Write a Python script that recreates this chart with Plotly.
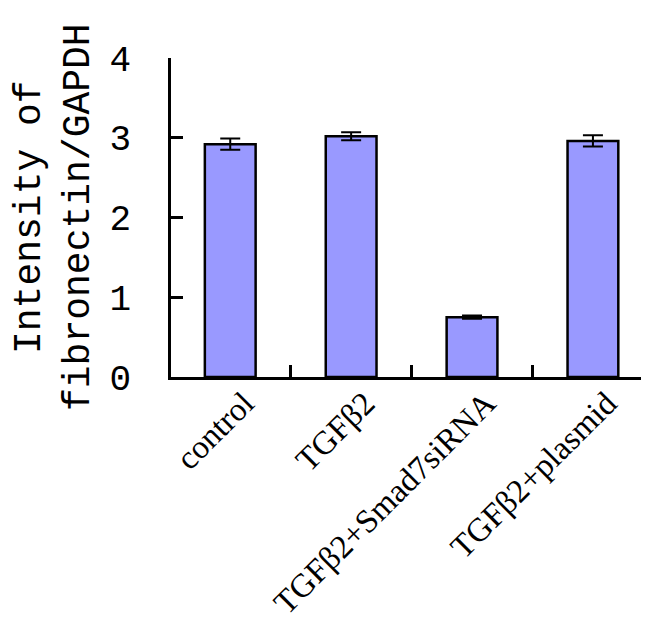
import plotly.graph_objects as go

categories = ["control", "TGFβ2", "TGFβ2+Smad7siRNA", "TGFβ2+plasmid"]
values = [2.92, 3.02, 0.75, 2.96]
errors = [0.07, 0.05, 0.02, 0.07]
y_ticks = [0, 1, 2, 3, 4]
ylabel = "Intensity of<br>fibronectin/GAPDH"

W, H = 649, 631
OFF = 8  # browser body margin
# desired on-screen plot box
SX0, SY0, SY1 = 171, 58, 377
L, T = SX0 - OFF, SY0 - OFF
B = H - (SY1 - OFF)
R = 0
pw, ph = W - L - R, H - T - B

fig = go.Figure()
fig.add_trace(go.Bar(
    x=categories, y=values,
    width=0.42,
    marker=dict(color="#9999FF", line=dict(color="black", width=2.5)),
    error_y=dict(type="data", array=errors, visible=True, color="black",
                 thickness=2, width=10),
))

def px_x(p):
    return (p - SX0) / pw

def px_y(p):
    return (SY1 - p) / ph

fig.add_annotation(text=ylabel, xref="paper", yref="paper",
                   x=px_x(54), y=px_y(217), textangle=-90, showarrow=False,
                   xanchor="center", yanchor="middle", borderpad=0,
                   font=dict(family="Liberation Mono", size=38, color="black"))

fig.update_layout(
    width=W, height=H,
    margin=dict(l=L, r=R, t=T, b=B, autoexpand=False),
    paper_bgcolor="white", plot_bgcolor="white",
    showlegend=False,
    xaxis=dict(
        type="category", range=[-0.49, 3.53],
        showline=True, linecolor="black", linewidth=2.5,
        ticks="inside", ticklen=12, tickwidth=2.5, tickcolor="black",
        tickson="boundaries", tickangle=-45,
        ticklabelshift=14, ticklabelstandoff=-9,
        tickfont=dict(family="Liberation Serif", size=33, color="black"),
        showgrid=False, zeroline=False, automargin=False,
    ),
    yaxis=dict(
        range=[0, 4], tickvals=y_ticks,
        showline=True, linecolor="black", linewidth=2.5,
        ticks="inside", ticklen=12, tickwidth=2.5, tickcolor="black",
        ticklabelstandoff=30,
        tickfont=dict(family="Liberation Mono", size=36, color="black"),
        showgrid=False, zeroline=False, automargin=False,
    ),
)

fig.write_html("out.html")
